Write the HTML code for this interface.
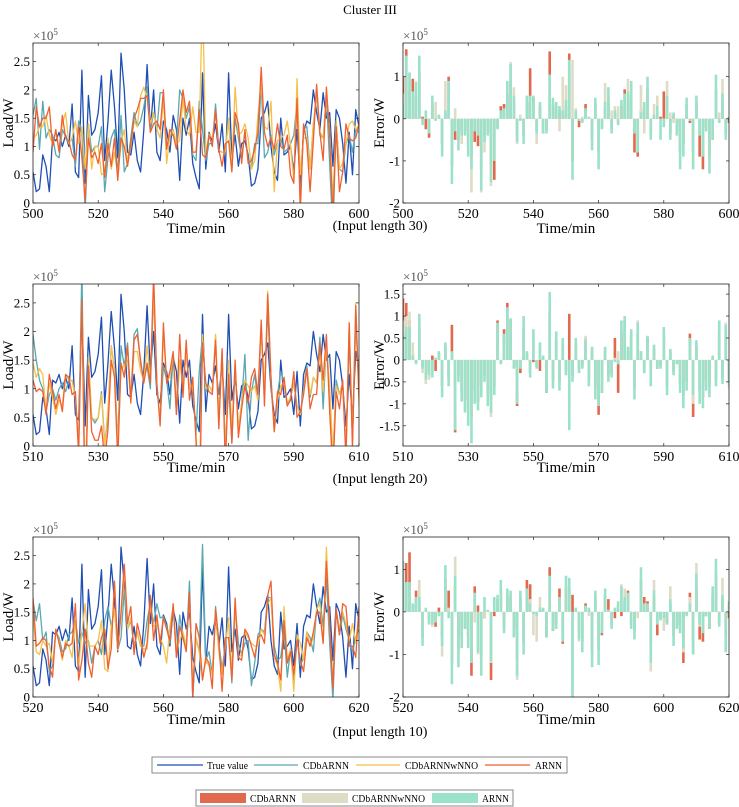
<!DOCTYPE html>
<html><head><meta charset="utf-8">
<style>
html,body{margin:0;padding:0;background:#fff;}
svg{display:block;font-family:"Liberation Serif",serif;}
</style></head>
<body>
<svg id="fig" width="739" height="807" viewBox="0 0 739 807" xmlns="http://www.w3.org/2000/svg">
<text x="370" y="14" text-anchor="middle" font-size="13">Cluster III</text>
<g>
<rect x="152" y="757" width="415" height="16" fill="#fff" stroke="#888" stroke-width="1"/>
<line x1="157" y1="765" x2="203" y2="765" stroke="#1f4fb4" stroke-width="1.3"/>
<text x="207" y="769" font-size="10" textLength="41" lengthAdjust="spacingAndGlyphs">True value</text>
<line x1="254" y1="765" x2="298" y2="765" stroke="#5aa8b0" stroke-width="1.3"/>
<text x="303" y="769" font-size="10" textLength="46" lengthAdjust="spacingAndGlyphs">CDbARNN</text>
<line x1="356" y1="765" x2="400" y2="765" stroke="#f5c04a" stroke-width="1.3"/>
<text x="405" y="769" font-size="10" textLength="73" lengthAdjust="spacingAndGlyphs">CDbARNNwNNO</text>
<line x1="485" y1="765" x2="530" y2="765" stroke="#f06030" stroke-width="1.3"/>
<text x="535" y="769" font-size="10" textLength="27" lengthAdjust="spacingAndGlyphs">ARNN</text>
</g>
<g>
<rect x="196" y="790" width="317" height="16" fill="#fff" stroke="#888" stroke-width="1"/>
<rect x="200" y="793" width="46" height="10" fill="#e0694e"/>
<text x="250" y="802" font-size="10" textLength="46" lengthAdjust="spacingAndGlyphs">CDbARNN</text>
<rect x="302" y="793" width="46" height="10" fill="#dedcc6"/>
<text x="352" y="802" font-size="10" textLength="73" lengthAdjust="spacingAndGlyphs">CDbARNNwNNO</text>
<rect x="432" y="793" width="46" height="10" fill="#9be2cb"/>
<text x="482" y="802" font-size="10" textLength="27" lengthAdjust="spacingAndGlyphs">ARNN</text>
</g>
</svg>
<script>
const trueVals=[0.55,0.2,0.25,0.85,0.65,0.2,1.15,1.1,1.25,1.0,1.2,1.0,1.75,0.55,0.45,2.35,0.35,1.9,1.2,1.3,1.6,2.25,0.75,1.45,2.35,1.7,0.8,2.65,2.0,0.9,0.85,1.25,0.75,0.55,1.3,2.45,1.3,2.0,0.9,0.75,1.45,1.3,0.9,1.55,1.3,0.4,1.5,1.2,1.5,0.7,0.45,0.25,2.3,0.6,1.25,1.1,1.4,0.9,1.4,0.55,2.3,0.8,1.2,0.65,1.05,1.1,0.85,0.3,0.35,0.6,1.5,1.6,1.8,1.0,0.55,0.4,1.5,0.85,0.9,1.0,0.55,1.3,0.35,1.25,1.45,1.4,2.0,1.6,1.3,1.95,1.5,1.6,0.65,1.65,1.5,1.05,0.35,1.25,0.5,1.65,1.35];
// errors (x1e5 W) per input length: ARNN (teal), CDbARNN (red), CDbARNNwNNO (beige)
const errArnn30=[0.35,1.5,1.1,0.65,0.85,1.5,-0.15,0.2,-0.35,0.55,-0.05,0.1,-0.9,0.2,0.9,-1.55,-0.3,-0.75,-0.4,-0.4,-0.9,-1.2,-0.3,-0.4,-1.7,-0.55,-0.4,-1.5,-1.0,-0.25,0.2,0.25,0.9,1.3,0.55,-0.55,-0.05,-0.6,0.55,0.55,0.55,-0.35,0.4,-0.35,-0.35,1.05,0.5,0.4,0.3,0.2,0.45,1.4,-1.45,0.2,-0.05,-0.1,0.25,0.05,-0.75,0.5,-1.2,-0.25,0.4,0.75,-0.35,0.2,-0.15,0.45,0.6,0.65,0.9,-0.35,-0.8,0.15,0.4,1.0,-0.5,0.1,0.3,-0.5,-0.2,0.55,-0.5,0.15,-0.4,-1.2,-0.9,0.5,-0.05,-1.2,0.55,-0.4,-0.9,-0.3,-1.3,-0.5,1.05,-0.1,0.6,-0.5,0.05];
const errCdb30=[1.0,1.65,0.7,0.95,0.5,1.1,0.05,-0.25,-0.45,0.3,-0.03,0.05,-0.6,0.1,1.0,-1.1,-0.5,-0.5,-0.3,-0.3,-0.6,-0.9,-0.55,-0.65,-1.2,-0.4,-0.3,-1.1,-1.45,-0.2,0.3,0.35,0.6,0.9,0.4,-0.4,-0.03,-0.4,0.4,1.2,0.5,-0.3,0.3,-0.35,-0.25,1.6,0.35,0.3,0.2,0.15,0.3,1.55,-1.0,0.15,-0.2,-0.05,0.35,0.03,-0.5,0.35,-0.8,-0.2,0.3,0.5,-0.25,0.15,-0.1,0.3,0.7,0.45,0.6,-0.8,-0.9,0.2,0.3,0.7,-0.35,0.05,0.05,0.05,0.65,0.5,-0.35,0.1,-0.1,-0.8,-0.6,0.35,-0.1,-0.8,0.4,-0.9,-1.2,-0.2,-0.9,-0.5,0.7,-0.05,0.4,-0.35,-0.1];
const errNno30=[0.6,1.0,1.1,0.5,0.9,1.0,-0.1,0.15,-0.3,0.4,0.4,0.05,-0.6,0.9,0.6,-1.0,0.25,-0.5,-0.6,-0.3,-0.6,-1.75,-0.2,-0.3,-1.75,-0.8,-0.3,-1.6,-0.7,-0.2,0.15,0.2,0.6,1.35,0.75,-0.6,0.1,-0.4,0.4,0.4,0.4,-0.6,0.3,-0.25,-0.25,0.7,0.35,0.1,-0.3,1.0,0.8,1.0,1.4,0.25,-0.03,0.05,0.2,0.03,-0.5,0.35,-0.8,-0.2,0.85,0.55,0.2,0.3,0.3,0.3,0.4,0.95,0.6,-0.25,-0.5,0.8,-0.35,0.7,-0.35,0.35,0.55,0.0,-0.15,0.9,0.15,-0.1,-0.3,-0.8,-0.6,0.35,-0.05,-0.8,0.4,-0.3,-0.6,-0.2,-0.9,-0.35,0.7,0.15,0.95,-0.35,0.03];
const errArnn20=[0.6,0.75,0.75,0.1,-0.1,1.05,-0.2,-0.45,-0.35,-0.4,0.05,0.2,-0.85,0.4,-0.6,0.2,-1.6,-0.5,-0.95,-1.2,-1.5,-1.9,-1.0,-1.15,-0.85,-0.5,-1.05,-1.2,-0.8,0.85,-0.1,0.6,1.2,0.95,-0.2,-1.0,-0.2,1.0,0.2,-0.4,0.7,-0.2,0.4,0.1,-0.75,1.55,-0.65,0.65,-0.7,0.5,-0.35,-1.6,-0.5,0.5,-0.3,-0.2,0.45,-0.6,0.3,-0.9,-1.05,-0.75,0.3,-0.5,-0.4,-0.05,-0.1,0.9,1.0,0.3,0.7,-0.9,0.85,0.2,-0.3,0.55,-0.6,0.35,-0.2,-0.2,0.75,-0.8,0.25,-0.35,-0.1,-0.75,-1.1,-0.7,0.5,-0.8,0.45,-1.0,-1.1,-0.7,-0.85,0.1,-0.6,0.9,-0.55,0.8,-0.5];
const errCdb20=[1.4,1.3,0.9,0.15,-0.05,0.7,-0.15,-0.3,-0.25,0.1,-0.25,0.15,-0.6,0.3,-0.4,0.8,-1.65,-0.35,-0.7,-0.9,-1.1,-1.3,-0.7,-0.95,-0.6,-0.35,-0.75,-0.9,-0.6,0.9,-0.05,0.7,1.3,0.9,-0.15,-1.05,-0.3,0.7,0.15,-0.3,-0.05,-0.15,-0.25,0.05,-0.75,1.1,-0.45,0.45,-0.5,0.35,-0.25,1.05,-0.35,0.35,-0.2,-0.15,0.5,-0.45,0.2,-0.6,-1.25,-0.75,0.2,-0.35,-0.3,0.5,-0.75,0.65,0.9,0.2,0.55,-0.65,0.6,0.05,-0.2,0.5,-0.2,0.25,-0.2,-0.15,0.55,-0.6,0.2,-0.25,-0.05,-0.55,-0.8,-0.5,0.6,-1.3,0.3,-0.7,-0.85,-0.5,-0.6,0.05,-0.4,0.65,-0.4,0.55,-0.35];
const errNno20=[0.9,1.0,1.1,0.4,-0.05,0.9,-0.3,-0.55,-0.45,-0.3,0.05,0.15,-0.6,0.3,-0.45,0.15,-1.2,-0.35,-0.7,-0.85,-1.1,-1.35,-0.75,-0.8,-0.6,-0.35,-0.8,-1.3,-0.6,0.6,-0.05,0.4,0.9,0.75,-0.15,-0.7,-0.15,0.75,0.15,-0.3,0.5,-0.15,0.3,0.05,-0.55,1.1,-0.45,0.45,-0.5,0.35,-0.25,-1.05,-0.35,0.4,-0.2,-0.15,0.55,-0.4,0.25,-0.7,-0.8,-0.55,0.2,-0.35,-0.3,0.05,0.2,0.65,0.7,0.2,0.55,-0.65,0.9,0.2,-0.3,0.4,-0.45,0.25,-0.15,-0.15,0.55,-0.6,0.2,-0.3,-0.1,-0.5,-0.8,-0.5,0.35,-1.0,0.25,-0.55,-0.8,-0.6,-0.6,0.05,-0.45,0.9,-0.4,0.85,-0.65];
const errArnn10=[1.2,0.7,0.7,0.2,0.35,0.35,-0.8,0.1,-0.3,-0.3,-0.25,-0.1,-0.8,1.1,-0.15,-1.7,0.85,-1.3,-0.85,-0.4,-0.85,-1.2,0.45,-0.95,-1.5,0.35,0.05,-1.15,0.35,0.4,0.75,-0.5,0.55,0.5,-0.6,-1.5,0.5,-1.0,0.55,0.2,-0.05,-0.1,0.1,0.1,-0.6,0.85,-0.45,-0.4,0.35,-0.7,0.85,0.8,-2.0,0.1,-0.65,-0.95,0.15,0.1,-1.3,0.5,-1.25,-0.5,0.55,0.05,-0.4,0.1,0.25,0.6,0.35,0.45,-0.4,-0.65,0.0,1.05,0.2,0.2,-1.2,0.5,-0.3,-0.2,-0.15,-0.3,0.3,-0.8,-0.4,-0.5,-0.85,-0.1,0.2,-1.0,0.9,-0.3,-0.5,-0.1,-0.4,0.6,1.25,-0.35,0.4,-0.95,0.25];
const errCdb10=[1.15,1.15,1.4,0.15,0.5,0.25,-0.6,0.05,-0.2,-0.2,-0.35,0.1,-0.6,0.8,0.5,-1.2,0.6,-0.9,-0.6,-0.4,-0.6,-1.5,0.6,0.15,-1.1,-0.15,0.03,-1.6,-0.1,0.3,0.5,-0.35,0.4,0.35,-0.4,-1.1,0.35,-0.7,0.75,0.65,-0.03,-0.05,0.05,0.05,-0.6,1.05,-0.45,-0.3,0.55,-0.75,0.6,0.55,0.4,0.05,-0.45,-0.7,0.2,0.05,-0.9,0.35,-0.9,-0.55,0.4,0.3,-0.3,-0.15,0.15,-0.1,0.25,0.5,-0.3,-0.45,-0.03,0.75,0.35,0.25,-0.8,0.35,-0.55,-0.15,-0.25,-0.25,0.2,-0.55,-0.3,-0.35,-1.2,-0.05,0.45,-0.7,0.6,-0.65,-0.7,-0.1,-0.4,0.4,0.85,-0.25,0.3,-0.6,-0.15];
const errNno10=[0.9,0.6,0.5,0.15,0.25,0.75,-0.55,0.05,-0.25,-0.35,-0.2,-0.1,-1.05,0.8,0.1,-1.2,1.3,-1.0,-0.3,-0.4,-0.6,-0.9,-0.25,-1.0,-1.1,-0.15,0.03,-1.2,0.25,0.3,0.55,-0.4,0.4,0.35,-0.45,-1.6,0.35,-0.75,0.4,0.3,-0.55,-0.7,0.35,0.05,-0.45,0.6,-0.35,-0.3,0.25,-0.5,0.6,0.55,-2.0,0.05,-0.7,-0.7,0.1,-0.1,-1.0,0.35,-0.9,-0.35,0.4,0.05,-0.3,0.05,0.2,0.65,0.55,0.3,-0.3,-0.5,-0.15,0.75,0.15,0.15,-1.4,0.75,-0.25,-0.15,-0.45,-0.2,0.6,-0.6,-0.3,-0.5,-0.95,-0.05,0.35,-1.0,1.15,-0.35,-0.4,-0.1,-0.3,0.45,0.95,-0.25,0.8,-0.7,0.15];
const xStarts=[500,510,520];
const captions=["(Input length 30)","(Input length 20)","(Input length 10)"];
const loadTicks=[0,0.5,1,1.5,2,2.5];
const loadTickLabels=["0","0.5","1","1.5","2","2.5"];
const errTicks1=[-2,-1,0,1];
const errTicks2=[-1.5,-1,-0.5,0,0.5,1,1.5];
const errTicks3=[-2,-1,0,1];
const xTicks30=[500,520,540,560,580,600];
const xTicks20=[510,530,550,570,590,610];
const xTicks10=[520,540,560,580,600,620];

const NS="http://www.w3.org/2000/svg";
const svg=document.getElementById('fig');
function mk(tag,attrs,parent){const e=document.createElementNS(NS,tag);for(const k in attrs)e.setAttribute(k,attrs[k]);(parent||svg).appendChild(e);return e;}
const rows=[
 {top:43,bot:203,eDom:[-2,1.8],eTicks:errTicks1,xt:xTicks30,ea:errArnn30,ec:errCdb30,en:errNno30,cap:230,tl:233},
 {top:284,bot:446,eDom:[-1.96,1.73],eTicks:errTicks2,xt:xTicks20,ea:errArnn20,ec:errCdb20,en:errNno20,cap:483,tl:472},
 {top:537,bot:697,eDom:[-2,1.76],eTicks:errTicks3,xt:xTicks10,ea:errArnn10,ec:errCdb10,en:errNno10,cap:736,tl:724}
];
const L={x0:33,x1:359},R={x0:403,x1:729};
rows.forEach((r,ri)=>{
 const xs=xStarts[ri];
 const xL=v=>L.x0+(v-xs)/100*(L.x1-L.x0);
 const xR=v=>R.x0+(v-xs)/100*(R.x1-R.x0);
 const yL=v=>r.bot-(v/2.83)*(r.bot-r.top);
 const yR=v=>r.bot-(v-r.eDom[0])/(r.eDom[1]-r.eDom[0])*(r.bot-r.top);
 const cpL=mk('clipPath',{id:'cl'+ri});mk('rect',{x:L.x0,y:r.top,width:L.x1-L.x0,height:r.bot-r.top},cpL);
 const cpR=mk('clipPath',{id:'cr'+ri});mk('rect',{x:R.x0,y:r.top,width:R.x1-R.x0,height:r.bot-r.top},cpR);
 const gl=mk('g',{});
 
 
 const series=[
  {name:'true-value-line',vals:trueVals.map(v=>v),col:'#1f4fb4'},
  {name:'cdbarnn-line',vals:trueVals.map((v,i)=>v+(r.ec[i]||0)),col:'#5aa8b0'},
  {name:'cdbarnnwnno-line',vals:trueVals.map((v,i)=>v+(r.en[i]||0)),col:'#f5c04a'},
  {name:'arnn-line',vals:trueVals.map((v,i)=>v+(r.ea[i]||0)),col:'#f06030'}
 ];
 const sg=mk('g',{'clip-path':'url(#cl'+ri+')'},gl);
 series.forEach(s=>{
  const pts=s.vals.map((v,i)=>xL(xs+i).toFixed(2)+','+yL(v).toFixed(2)).join(' ');
  const p=mk('polyline',{points:pts,fill:'none',stroke:s.col,'stroke-width':1.3,'stroke-linejoin':'round'},sg);
  
  
 });
 mk('rect',{x:L.x0,y:r.top,width:L.x1-L.x0,height:r.bot-r.top,fill:'none',stroke:'#222','stroke-width':0.8},gl);
 loadTicks.forEach((t,i)=>{
  const y=yL(t);
  mk('line',{x1:L.x0,x2:L.x0+3,y1:y,y2:y,stroke:'#222','stroke-width':0.7},gl);
  mk('line',{x1:L.x1,x2:L.x1-3,y1:y,y2:y,stroke:'#222','stroke-width':0.7},gl);
  const t2=mk('text',{x:L.x0-3,y:y+4.5,'text-anchor':'end','font-size':13},gl);t2.textContent=loadTickLabels[i];
  
  
 });
 r.xt.forEach(t=>{
  const x=xL(t);
  mk('line',{x1:x,x2:x,y1:r.bot,y2:r.bot-3,stroke:'#222','stroke-width':0.7},gl);
  mk('line',{x1:x,x2:x,y1:r.top,y2:r.top+3,stroke:'#222','stroke-width':0.7},gl);
  const tt=mk('text',{x:x,y:r.bot+15,'text-anchor':'middle','font-size':14},gl);tt.textContent=t;
  
  
 });
 const e1=mk('text',{x:L.x0,y:r.top-3,'font-size':13,fill:'#555'},gl);e1.innerHTML='×10<tspan dy="-5" font-size="9">5</tspan>';
 
 
 const yl=mk('text',{x:0,y:0,transform:'translate(13,'+((r.top+r.bot)/2)+') rotate(-90)','text-anchor':'middle','font-size':15},gl);yl.textContent='Load/W';
 
 
 const xl=mk('text',{x:(L.x0+L.x1)/2,y:r.tl,'text-anchor':'middle','font-size':15},gl);xl.textContent='Time/min';
 
 
 const gr=mk('g',{});
 
 
 const bg=mk('g',{'clip-path':'url(#cr'+ri+')'},gr);
 const bw=(R.x1-R.x0)/100*0.8;
 const barSets=[{arr:r.ec,col:'#e0694e',nm:'cdbarnn-bar'},{arr:r.en,col:'#dedcc6',nm:'cdbarnnwnno-bar'},{arr:r.ea,col:'#9be2cb',nm:'arnn-bar'}];
 barSets.forEach(bs=>{
  bs.arr.forEach((v,i)=>{
   const x=xR(xs+i), y0=yR(0), y1=yR(v);
   const b=mk('rect',{x:(x-bw/2).toFixed(2),y:Math.min(y0,y1).toFixed(2),width:bw.toFixed(2),height:Math.abs(y1-y0).toFixed(2),fill:bs.col},bg);
   
   
  });
 });
 mk('rect',{x:R.x0,y:r.top,width:R.x1-R.x0,height:r.bot-r.top,fill:'none',stroke:'#222','stroke-width':0.8},gr);
 r.eTicks.forEach(t=>{
  const y=yR(t);
  mk('line',{x1:R.x0,x2:R.x0+3,y1:y,y2:y,stroke:'#222','stroke-width':0.7},gr);
  mk('line',{x1:R.x1,x2:R.x1-3,y1:y,y2:y,stroke:'#222','stroke-width':0.7},gr);
  const t2=mk('text',{x:R.x0-3,y:y+4.5,'text-anchor':'end','font-size':13},gr);t2.textContent=String(t);
  
  
 });
 r.xt.forEach(t=>{
  const x=xR(t);
  mk('line',{x1:x,x2:x,y1:r.bot,y2:r.bot-3,stroke:'#222','stroke-width':0.7},gr);
  mk('line',{x1:x,x2:x,y1:r.top,y2:r.top+3,stroke:'#222','stroke-width':0.7},gr);
  const tt=mk('text',{x:x,y:r.bot+15,'text-anchor':'middle','font-size':14},gr);tt.textContent=t;
  
  
 });
 const e2=mk('text',{x:R.x0,y:r.top-3,'font-size':13,fill:'#555'},gr);e2.innerHTML='×10<tspan dy="-5" font-size="9">5</tspan>';
 
 
 const yl2=mk('text',{x:0,y:0,transform:'translate(384,'+((r.top+r.bot)/2)+') rotate(-90)','text-anchor':'middle','font-size':15},gr);yl2.textContent='Error/W';
 
 
 const xl2=mk('text',{x:(R.x0+R.x1)/2,y:r.tl,'text-anchor':'middle','font-size':15},gr);xl2.textContent='Time/min';
 
 
 const cp=mk('text',{x:380,y:r.cap,'text-anchor':'middle','font-size':14});cp.textContent=captions[ri];
 
 
});
</script>
</body></html>
